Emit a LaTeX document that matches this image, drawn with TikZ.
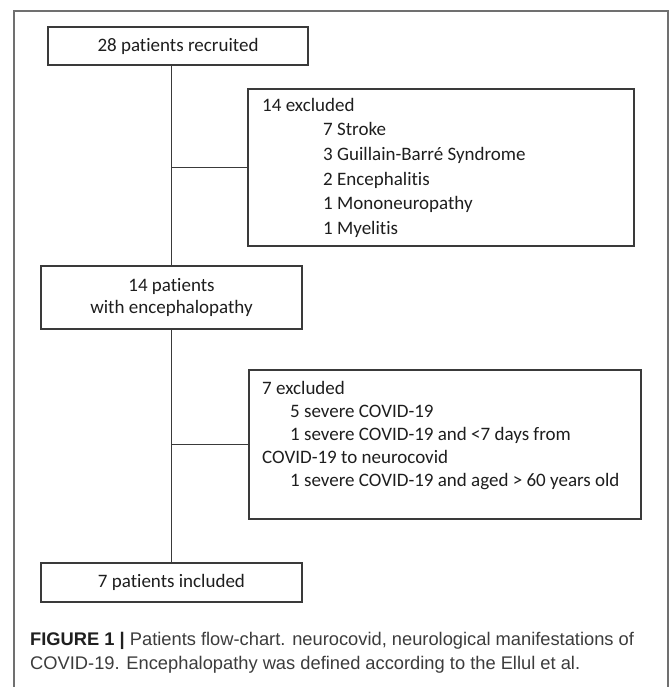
\documentclass[tikz,border=0pt]{standalone}
\usepackage{fontspec}
\setmainfont[Ligatures={NoCommon}]{Carlito}
\newfontfamily\capfont{Liberation Sans}
\begin{document}
\begin{tikzpicture}[x=1pt,y=-1pt,
  box/.style={draw=boxc,line width=1.3pt,inner sep=0pt,text=txtc,font=\fontsize{19}{22}\selectfont},
  conn/.style={draw=boxc,line width=1.3pt},
  item/.style={anchor=base west,inner sep=0pt,text=txtc,font=\fontsize{19}{22}\selectfont},
  captxt/.style={anchor=base west,inner sep=0pt,text=capc,font=\capfont\fontsize{18.3}{20}\selectfont}]
\definecolor{boxc}{HTML}{3A3A3A}
\definecolor{txtc}{HTML}{1E1E1E}
\definecolor{capc}{HTML}{3C3C3C}
\definecolor{framec}{HTML}{707070}
\useasboundingbox (0,0) rectangle (669,687);
\fill[white] (0,0) rectangle (669,687);
% outer frame
\draw[framec,line width=1.2pt] (14,687) -- (14,11) -- (668,11) -- (668,687);
% main boxes
\node[box,minimum width=260pt,minimum height=38pt] (b1) at (178,46) {28 patients recruited};
\node[box,minimum width=261pt,minimum height=63pt,align=center] (b2) at (171.5,297.5) {14 patients\\with encephalopathy};
\node[box,minimum width=261pt,minimum height=39pt] (b3) at (171.5,582.5) {7 patients included};
% exclusion boxes
\node[box,minimum width=386pt,minimum height=157pt] (e1) at (441,167.5) {};
\node[box,minimum width=392pt,minimum height=149pt] (e2) at (445,444.5) {};
% connectors
\draw[conn] (b1.south -| b2.north) -- (b2.north);
\draw[conn] (b2.south) -- (b3.north);
\draw[conn] (e1.west -| b2.north) -- (e1.west);
\draw[conn] (e2.west -| b2.north) -- (e2.west);
% texts of first exclusion box
\node[item] (e1t0) at (262,112) {14 excluded};
\node[item] (e1t1) at (323,136) {7 Stroke};
\node[item] (e1t2) at (323,160.5) {3 Guillain-Barré Syndrome};
\node[item] (e1t3) at (323,185) {2 Encephalitis};
\node[item] (e1t4) at (323,209.5) {1 Mononeuropathy};
\node[item] (e1t5) at (323,234) {1 Myelitis};
% texts of second exclusion box
\node[item] (e2t0) at (262,394) {7 excluded};
\node[item] (e2t1) at (290,417) {5 severe COVID-19};
\node[item] (e2t2) at (290,440) {1 severe COVID-19 and <7 days from};
\node[item] (e2t3) at (262,463) {COVID-19 to neurocovid};
\node[item] (e2t4) at (290,486) {1 severe COVID-19 and aged > 60 years old};
% caption
\node[captxt] (c1) at (30,645) {{\bfseries\color{black!88}FIGURE 1 |} Patients flow-chart. neurocovid, neurological manifestations of};
\node[captxt] (c2) at (30,669) {COVID-19. Encephalopathy was defined according to the Ellul et al.};
\end{tikzpicture}
\end{document}
